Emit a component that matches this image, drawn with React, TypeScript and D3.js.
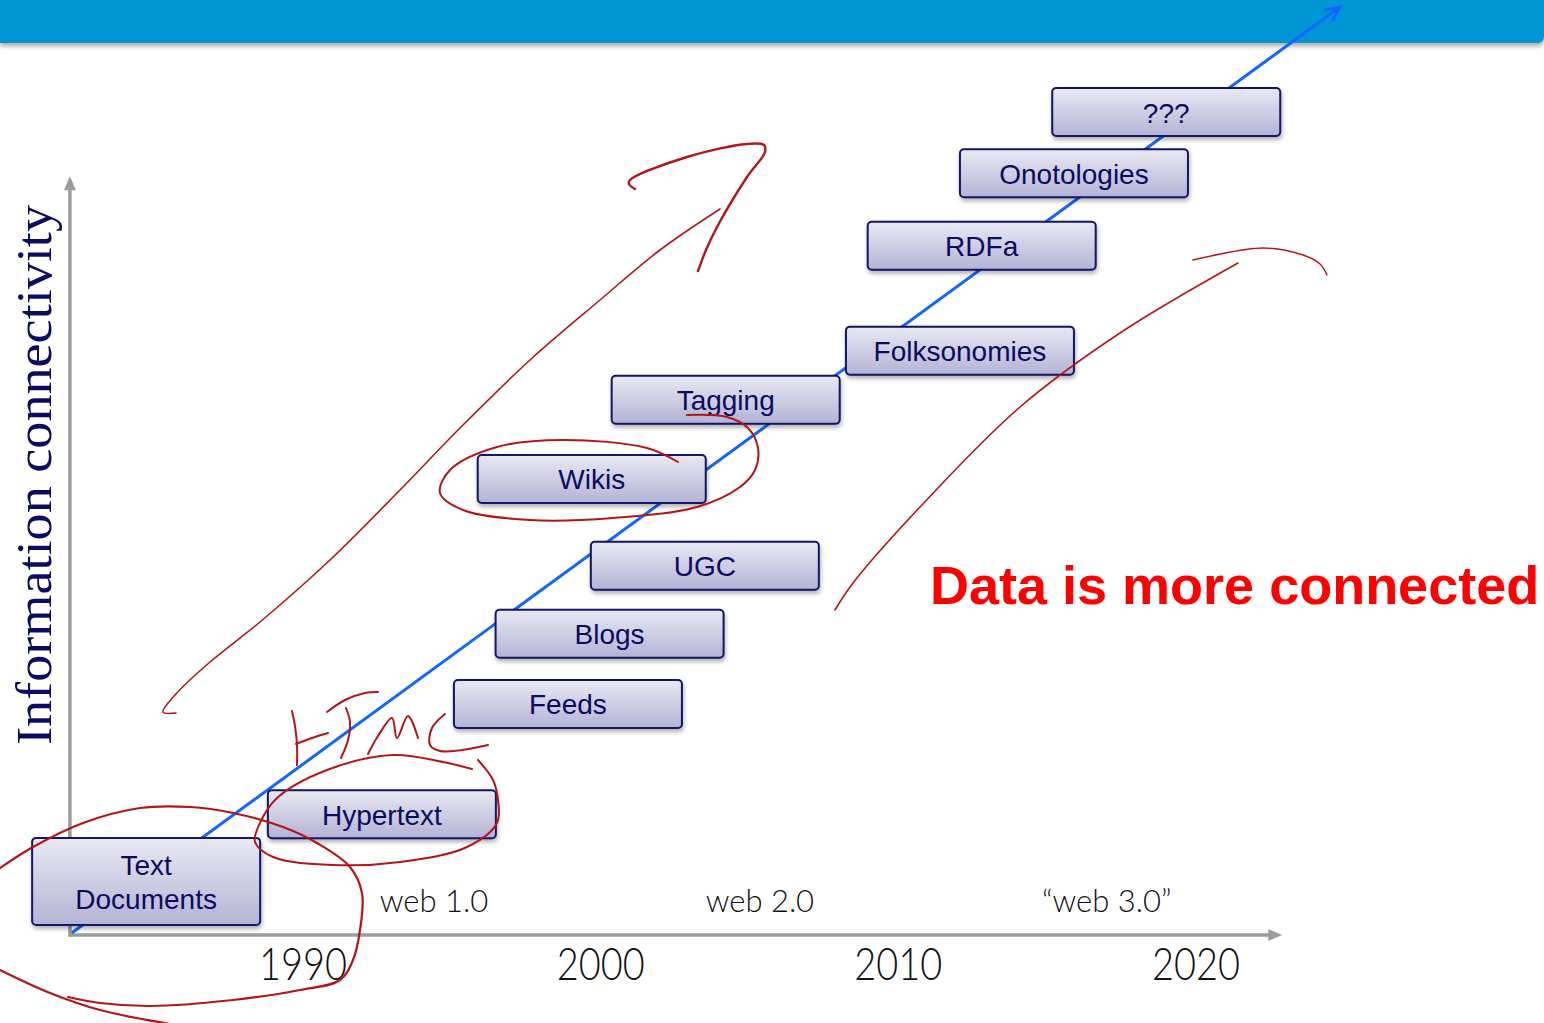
import * as React from "react";
import * as d3 from "d3";

// timeline items: label lines, year (x) and connectivity level (y)
const itemLabels = [
  ["Text", "Documents"],
  ["Hypertext"],
  ["Feeds"],
  ["Blogs"],
  ["UGC"],
  ["Wikis"],
  ["Tagging"],
  ["Folksonomies"],
  ["RDFa"],
  ["Onotologies"],
  ["???"],
];
const itemYears = [1984.73, 1992.65, 1998.9, 2000.3, 2003.5, 1999.7, 2004.2, 2012.07, 2012.8, 2015.9, 2019.0];
const itemLevels = [7.1, 16.0, 30.6, 39.9, 48.9, 60.4, 70.9, 77.4, 91.3, 100.9, 109.0];

const yearTicks = [1990, 2000, 2010, 2020];
const eraLabels = ["web 1.0", "web 2.0", "\u201cweb 3.0\u201d"];
const eraYears = [1994.4, 2005.35, 2017.0];

// trend arrow (start / end) in year, level
const trendYears = [1982.23, 2024.83];
const trendLevels = [0.26, 122.9];

const axisYears = [1982.17, 2022.9];
const axisLevels = [0, 100.5];

// hand-drawn red ink over the slide (pixel space)
const inkStrokes: { pts: [number, number][]; w: number }[] = [
  { w: 1.6, pts: [[176, 713], [163, 712], [175, 695], [210, 662], [260, 622], [330, 560], [400, 490], [460, 428], [530, 360], [600, 300], [660, 250], [720, 209]] },
  { w: 2.4, pts: [[698, 271], [706, 250], [717, 227], [747, 177], [765, 152], [764, 145], [747, 144], [687, 157], [630, 180], [629, 184], [635, 189]] },
  { w: 1.6, pts: [[835, 610], [853, 583], [920, 507], [1020, 407], [1120, 333], [1238, 263]] },
  { w: 1.4, pts: [[1193, 260], [1263, 248], [1303, 255], [1320, 264], [1327, 275]] },
  { w: 2, pts: [[687, 415], [727, 417], [748, 428], [758, 448], [755, 470], [740, 487], [697, 507], [613, 518], [530, 520], [463, 510], [440, 493], [450, 470], [497, 447], [563, 440], [647, 448], [678, 462]] },
  { w: 2, pts: [[472, 769], [443, 762], [393, 755], [327, 770], [277, 798], [260, 823], [255, 842], [273, 857], [333, 865], [400, 862], [467, 847], [497, 823], [498, 800], [493, 780], [478, 760]] },
  { w: 2.2, pts: [[0, 868], [33, 847], [83, 823], [140, 808], [190, 807], [233, 813], [283, 827], [317, 843], [350, 867], [362, 893], [360, 930], [353, 960], [340, 980], [300, 990], [233, 1000], [150, 1006], [100, 1003], [68, 997]] },
  { w: 2.2, pts: [[0, 970], [50, 993], [100, 1010], [170, 1024]] },
  // HTML
  { w: 2, pts: [[292, 711], [295, 726], [297, 745], [297, 765]] },
  { w: 2, pts: [[296, 744], [312, 738], [328, 733]] },
  { w: 2, pts: [[327, 712], [345, 700], [365, 693], [378, 692]] },
  { w: 2, pts: [[346, 708], [350, 722], [348, 740], [341, 758]] },
  { w: 2, pts: [[368, 754], [378, 736], [392, 718], [397, 738], [408, 716], [418, 738]] },
  { w: 2, pts: [[445, 714], [432, 728], [430, 745], [440, 751], [462, 750], [488, 745]] },
];

const W = 1544;
const H = 1023;
const BOX_W = 228;

export default function App() {
  const x = d3.scaleLinear().domain([1990, 2020]).range([303, 1196]);
  const y = d3.scaleLinear().domain([0, 100]).range([935, 180]);
  const ink = d3
    .line<[number, number]>()
    .curve(d3.curveCatmullRom.alpha(0.5));

  const tx0 = x(trendYears[0]);
  const ty0 = y(trendLevels[0]);
  const tx1 = x(trendYears[1]);
  const ty1 = y(trendLevels[1]);
  const ang = Math.atan2(ty1 - ty0, tx1 - tx0);
  const head = (len: number, da: number) =>
    `${tx1 + len * Math.cos(ang + Math.PI - da)},${ty1 + len * Math.sin(ang + Math.PI - da)}`;

  const ax0 = x(axisYears[0]);
  const ax1 = x(axisYears[1]);
  const ay0 = y(axisLevels[0]);
  const ay1 = y(axisLevels[1]);
  const grey = "#9c9c9c";

  return (
    <svg
      width={W}
      height={H}
      style={{ position: "absolute", left: 0, top: 0, display: "block", background: "#fff" }}
    >
      <defs>
        <linearGradient id="boxFill" x1="0" y1="0" x2="0" y2="1">
          <stop offset="0" stopColor="#e9e9f3" />
          <stop offset="1" stopColor="#b3b3d5" />
        </linearGradient>
        <filter id="boxShadow" x="-10%" y="-20%" width="130%" height="160%">
          <feDropShadow dx="1" dy="3" stdDeviation="2" floodColor="#000" floodOpacity="0.3" />
        </filter>
        <filter id="barShadow" x="-5%" y="-20%" width="110%" height="160%">
          <feDropShadow dx="0" dy="3" stdDeviation="2.5" floodColor="#000" floodOpacity="0.35" />
        </filter>
      </defs>

      {/* header bar */}
      <path
        d={`M0,0 H${W} V36 Q${W} 43 ${W - 6},43 H0 Z`}
        fill="#0096d6"
        filter="url(#barShadow)"
      />

      {/* axes */}
      <line x1={ax0} y1={ay0} x2={ax1 - 10} y2={ay0} stroke={grey} strokeWidth={3.5} />
      <path d={`M${ax1},${ay0} L${ax1 - 14},${ay0 - 6} L${ax1 - 14},${ay0 + 6} Z`} fill={grey} />
      <line x1={ax0} y1={ay0 + 1.75} x2={ax0} y2={ay1 + 10} stroke={grey} strokeWidth={3.5} />
      <path d={`M${ax0},${ay1} L${ax0 - 6},${ay1 + 14} L${ax0 + 6},${ay1 + 14} Z`} fill={grey} />

      {/* y label */}
      <text
        transform="translate(51,475) rotate(-90)"
        textAnchor="middle"
        fontFamily="'Liberation Serif', 'Times New Roman', serif"
        fontSize={51}
        textLength={540}
        lengthAdjust="spacingAndGlyphs"
        fill="#0b0b62"
      >
        Information connectivity
      </text>

      {/* year ticks */}
      {yearTicks.map((yr) => (
        <text
          key={yr}
          x={x(yr)}
          y={980}
          textAnchor="middle"
          fontFamily="Lato, sans-serif"
          fontWeight={300}
          fontSize={46}
          textLength={88}
          lengthAdjust="spacingAndGlyphs"
          fill="#111"
        >
          {yr}
        </text>
      ))}

      {/* era labels */}
      {eraLabels.map((lab, i) => (
        <text
          key={lab}
          x={x(eraYears[i])}
          y={912}
          textAnchor="middle"
          fontFamily="Lato, sans-serif"
          fontWeight={300}
          fontSize={31}
          fill="#111"
        >
          {lab}
        </text>
      ))}

      {/* trend arrow */}
      <line x1={tx0} y1={ty0} x2={tx1} y2={ty1} stroke="#1166ff" strokeWidth={3} />
      <polyline
        points={`${head(16, 0.45)} ${tx1},${ty1} ${head(16, -0.45)}`}
        fill="none"
        stroke="#1166ff"
        strokeWidth={3}
        strokeLinejoin="miter"
      />

      {/* boxes */}
      {itemLabels.map((lines, i) => {
        const cx = x(itemYears[i]);
        const cy = y(itemLevels[i]);
        const h = lines.length > 1 ? 87 : 48;
        return (
          <g key={lines.join(" ")}>
            <rect
              x={cx - BOX_W / 2}
              y={cy - h / 2}
              width={BOX_W}
              height={h}
              rx={4}
              fill="url(#boxFill)"
              stroke="#151568"
              strokeWidth={2}
              filter="url(#boxShadow)"
            />
            {lines.map((ln, j) => (
              <text
                key={ln}
                x={cx}
                y={cy + 10.5 + (j - (lines.length - 1) / 2) * 34}
                textAnchor="middle"
                fontFamily="'Liberation Sans', Arial, sans-serif"
                fontSize={28}
                fill="#0b0b60"
              >
                {ln}
              </text>
            ))}
          </g>
        );
      })}

      {/* red message */}
      <text
        x={930}
        y={604}
        fontFamily="'Liberation Sans', Arial, sans-serif"
        fontWeight="bold"
        fontSize={54}
        fill="#ff0000"
      >
        Data is more connected
      </text>

      {/* ink */}
      {inkStrokes.map((s, i) => (
        <path
          key={i}
          d={ink(s.pts) ?? ""}
          fill="none"
          stroke="#b3161a"
          strokeWidth={s.w}
          strokeLinecap="round"
          strokeLinejoin="round"
        />
      ))}
    </svg>
  );
}
